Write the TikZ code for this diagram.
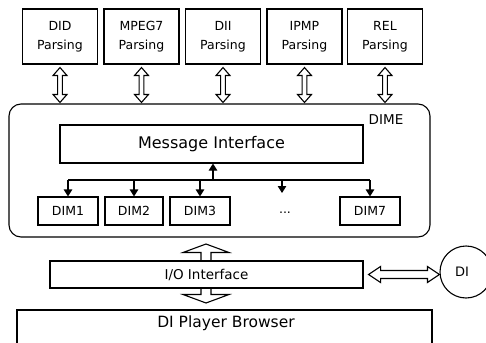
\documentclass[tikz,border=0pt]{standalone}
\usepackage{fontspec}
\setmainfont{DejaVu Sans}
\usetikzlibrary{calc,arrows.meta}
\tikzset{
  box/.style={draw, line width=1.1pt, fill=white, inner sep=0pt, align=center},
  hollow/.style={draw, line width=1.1pt, fill=white, line join=miter},
  conn/.style={line width=1.1pt, -{Triangle[length=7pt,width=8.5pt]}},
}
\newcommand\vdbl[5]{%
  \draw[hollow] let \p1=#1, \p2=#2 in
   (\x1,\y1) -- (\x1+#3,\y1-#5) -- (\x1+#4,\y1-#5) -- (\x1+#4,\y2+#5) -- (\x1+#3,\y2+#5)
   -- (\x1,\y2) -- (\x1-#3,\y2+#5) -- (\x1-#4,\y2+#5) -- (\x1-#4,\y1-#5) -- (\x1-#3,\y1-#5) -- cycle;}
\newcommand\hdbl[5]{%
  \draw[hollow] let \p1=#1, \p2=#2 in
   (\x1,\y1) -- (\x1+#5,\y1+#3) -- (\x1+#5,\y1+#4) -- (\x2-#5,\y1+#4) -- (\x2-#5,\y1+#3)
   -- (\x2,\y1) -- (\x2-#5,\y1-#3) -- (\x2-#5,\y1-#4) -- (\x1+#5,\y1-#4) -- (\x1+#5,\y1-#3) -- cycle;}
\begin{document}
\begin{tikzpicture}[x=1pt,y=-1pt]
\useasboundingbox (0,0) rectangle (486,342);
\fill[white] (0,0) rectangle (486,342);
% top parsing boxes
\begin{scope}[every node/.style={box, minimum width=75pt, minimum height=55pt, font=\fontsize{12.5}{19}\selectfont}]
\node (did)  at (60,36.5)    {DID\\Parsing};
\node (mpeg) at (141.5,36.5) {MPEG7\\Parsing};
\node (dii)  at (223,36.5)   {DII\\Parsing};
\node (ipmp) at (304.5,36.5) {IPMP\\Parsing};
\node (rel)  at (385,36.5)   {REL\\Parsing};
\end{scope}
% DIME container
\node[draw, line width=1.1pt, rounded corners=12pt, minimum width=421pt, minimum height=133pt, inner sep=0pt] (dime) at (219.5,170.5) {};
\node[font=\fontsize{13.5}{16}\selectfont, inner sep=0pt] (dimel) at (386,120) {DIME};
\node[box, minimum width=303pt, minimum height=38pt, font=\fontsize{16}{19}\selectfont] (msg) at (211.5,144) {Message Interface};
% DIM boxes
\begin{scope}[every node/.style={box, minimum height=28pt, font=\fontsize{12.5}{15}\selectfont}]
\node[minimum width=60pt] (dim1) at (68,211)  {DIM1};
\node[minimum width=58pt] (dim2) at (134,211) {DIM2};
\node[minimum width=60pt] (dim3) at (200,211) {DIM3};
\node[minimum width=60pt] (dim7) at (370,211) {DIM7};
\end{scope}
\node[font=\fontsize{12.5}{15}\selectfont, inner sep=0pt] (dots) at (285,213) {...};
\coordinate (hl) at (68,180);
\coordinate (hr) at (370,180);
\coordinate (dotstop) at (282,193);
\coordinate (upx) at (213,180);
\draw[line width=1.1pt] (hl) -- (hr);
\draw[conn] (hl) -- (dim1.north);
\draw[conn] (dim2.north |- hl) -- (dim2.north);
\draw[conn] (dim3.north |- hl) -- (dim3.north);
\draw[conn] (dotstop |- hl) -- (dotstop);
\draw[conn] (hr) -- (dim7.north);
\draw[conn] (upx) -- (upx |- msg.south);
% parsing double arrows
\foreach \nm in {did,mpeg,dii,ipmp,rel}{
  \coordinate (a) at ($(\nm.south)+(0,3)$);
  \coordinate (b) at ($(\nm.south |- dime.north)+(0,-1)$);
  \vdbl{(a)}{(b)}{7pt}{2.4pt}{8pt}
}
% I/O interface
\coordinate (iotop) at (206,244);
\coordinate (iobot) at (206,303);
\vdbl{(iotop)}{(iobot)}{23pt}{5pt}{8.5pt}
\node[box, minimum width=313pt, minimum height=27pt, font=\fontsize{13.5}{16}\selectfont] (io) at (206.5,274.5) {I/O Interface};
% DI
\node[draw, line width=1.1pt, circle, minimum size=52pt, inner sep=0pt, font=\fontsize{13}{16}\selectfont] (di) at (466,272) {DI\hspace*{8pt}};
\coordinate (dia) at ($(io.east)+(5,0)$);
\hdbl{(dia)}{(di.west)}{8pt}{4pt}{12pt}
% player browser
\node[inner sep=0pt, font=\fontsize{15.5}{18}\selectfont] (player) at (226,323) {DI Player Browser};
\draw[line width=1.1pt] (17,350) -- (17,310) -- (432,310) -- (432,350);
\end{tikzpicture}
\end{document}
